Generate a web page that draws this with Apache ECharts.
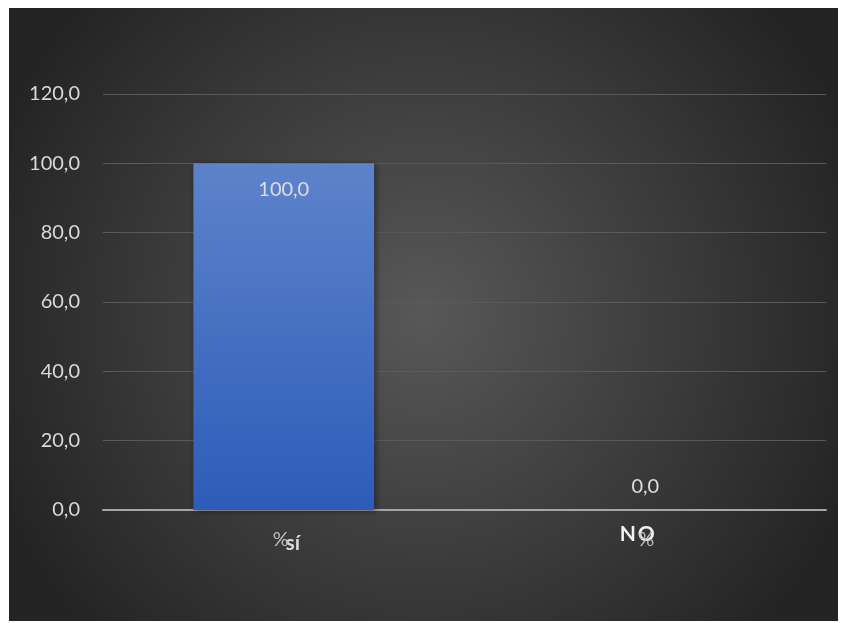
<!DOCTYPE html>
<html>
<head>
<meta charset="utf-8">
<script src="https://cdn.jsdelivr.net/npm/echarts@6/dist/echarts.min.js"></script>
<style>
html,body{margin:0;padding:0;background:#ffffff;width:844px;height:623px;overflow:hidden;}
#chart{position:absolute;left:9px;top:8px;width:829px;height:613px;}
</style>
</head>
<body>
<div id="chart"></div>
<script>
const categories = ['sí', 'NO'];
const percentLabels = ['%', '%'];
const values = [100.0, 0.0];
const yMin = 0, yMax = 120, yStep = 20;

const fmt = v => v.toFixed(1).replace('.', ',');
const FONT = 'Lato';

const chart = echarts.init(document.getElementById('chart'), null, {renderer: 'canvas'});
chart.setOption({
  animation: false,
  backgroundColor: {
    type: 'radial', x: 0.5, y: 0.5, r: 0.75,
    colorStops: [{offset: 0, color: '#585858'}, {offset: 1, color: '#242424'}]
  },
  grid: {left: 94, right: 12, top: 86, bottom: 111, containLabel: false},
  xAxis: [{
    type: 'category',
    data: categories,
    axisLine: {show: true, lineStyle: {color: '#a6a6a6', width: 2}},
    axisTick: {show: false},
    axisLabel: {
      margin: 14,
      formatter: (v, i) => {
        if (i === 0) return '{a|' + v + '}';
        return v.split('').map((c, k) => (k === 0 ? '{n|' : '{o|') + c + '}').join('');
      },
      rich: {
        a: {fontFamily: FONT, fontSize: 21, fontWeight: 'bold', color: '#d9d9d9', padding: [9, 0, 0, 18]},
        n: {fontFamily: FONT, fontSize: 21, fontWeight: 'bold', color: '#f2f2f2', padding: [0, 2, 0, 0]},
        o: {fontFamily: FONT, fontSize: 21, fontWeight: 'bold', color: '#f2f2f2', padding: [0, 16, 0, 0]}
      }
    }
  }, {
    type: 'category',
    position: 'bottom',
    data: percentLabels,
    axisLine: {show: false},
    axisTick: {show: false},
    axisLabel: {
      margin: 20,
      formatter: (v, i) => i === 0 ? '{a|' + v + '}' : '{b|' + v + '}',
      rich: {
        a: {fontFamily: FONT, fontSize: 20, color: '#bfbfbf', padding: [0, 6, 0, 0]},
        b: {fontFamily: FONT, fontSize: 20, color: '#bfbfbf', padding: [0, 0, 0, 2]}
      }
    }
  }],
  yAxis: {
    type: 'value',
    min: yMin, max: yMax, interval: yStep,
    axisLine: {show: false},
    axisTick: {show: false},
    splitLine: {lineStyle: {color: '#5a5a5a', width: 1}},
    axisLabel: {
      margin: 23,
      fontFamily: FONT, fontSize: 20, color: '#d9d9d9',
      formatter: v => fmt(v)
    }
  },
  series: [{
    type: 'bar',
    xAxisIndex: 0,
    data: values.map(v => v === 0 ? {value: v, label: {position: 'top', distance: 13}} : v),
    barWidth: '50%',
    itemStyle: {
      color: {
        type: 'linear', x: 0, y: 0, x2: 0, y2: 1,
        colorStops: [{offset: 0, color: '#5d83ca'}, {offset: 1, color: '#2d5cb8'}]
      },
      shadowColor: 'rgba(0,0,0,0.45)', shadowBlur: 6, shadowOffsetX: 2, shadowOffsetY: 1
    },
    label: {
      show: true,
      fontFamily: FONT, fontSize: 20, color: '#dedede',
      formatter: p => fmt(p.value),
      position: 'insideTop',
      distance: 16
    }
  }]
});
</script>
</body>
</html>
